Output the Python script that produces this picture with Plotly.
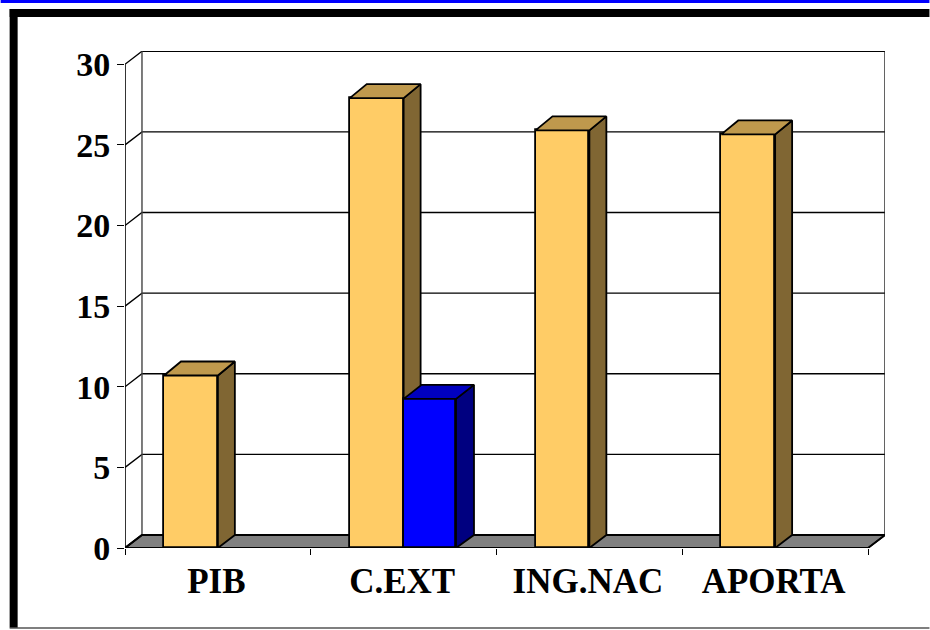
import plotly.graph_objects as go

categories = ["PIB", "C.EXT", "ING.NAC", "APORTA"]
serie_a = [10.7, 27.9, 25.9, 25.65]
serie_b = [None, 9.25, None, None]
y_ticks = [0, 5, 10, 15, 20, 25, 30]

W, H = 930, 630
L, R, T, B = 124.5, 885.5, 51, 548.5  # plot box in page pixels
UX = 186.0                            # pixels per category
UY = 80.7 / 5                         # pixels per value unit
DX = 17 / UX                          # 3D depth, in data units
DY = 13 / UY
BAR_DY_TOP = 14 / UY
DX_B = 18 / UX
SLOT_GAP, SLOT_W_A, SLOT_W_B = 0.21, 0.29, 0.282
N = len(categories)
x_idx = list(range(N))

ORANGE, ORANGE_SIDE, ORANGE_TOP = "#FFCC66", "#806633", "#BF994D"
BLUE, BLUE_SIDE, BLUE_TOP = "#0000FF", "#000080", "#0000BF"
FLOOR = "#808080"
FONT_Y = dict(family="Liberation Serif", size=34, color="black", weight="bold")
FONT_X = dict(family="Liberation Serif", size=35, color="black", weight="bold")
EDGE = dict(color="black", width=1.8)


def faces(values, offset, w, dx):
    sx, sy, tx, ty = [], [], [], []
    for i, v in enumerate(values):
        if v is None:
            continue
        a = i + offset
        b = a + w
        sx += [b, b + dx, b + dx, b, b, None]
        sy += [0, DY, v + BAR_DY_TOP, v, 0, None]
        tx += [a, a + dx, b + dx, b, a, None]
        ty += [v, v + BAR_DY_TOP, v + BAR_DY_TOP, v, v, None]
    return sx, sy, tx, ty


def poly(x, y, color, xa, ya, line=EDGE):
    return go.Scatter(x=x, y=y, mode="lines", fill="toself", fillcolor=color, line=line,
                      xaxis=xa, yaxis=ya, hoverinfo="skip", showlegend=False, cliponaxis=False)


def line(x, y, xa="x", ya="y", color="black", width=1.4):
    return go.Scatter(x=x, y=y, mode="lines", line=dict(color=color, width=width),
                      xaxis=xa, yaxis=ya, hoverinfo="skip", showlegend=False, cliponaxis=False)


fig = go.Figure()

# Base: floor, walls, grid
fig.add_trace(poly([0, DX, N + DX, N, 0], [0, DY, DY, 0, 0], FLOOR, "x", "y"))
for v in y_ticks[1:]:
    fig.add_trace(line([0, DX, N + DX], [v, v + DY, v + DY]))
fig.add_trace(line([DX, DX], [DY, y_ticks[-1] + DY], color="#444444"))
fig.add_trace(line([N + DX, N + DX], [DY, y_ticks[-1] + DY], color="#222222"))
fig.add_trace(line([0, DX, N + DX], [0, DY, DY], width=1.8))

# Series A
sx, sy, tx, ty = faces(serie_a, SLOT_GAP, SLOT_W_A, DX)
fig.add_trace(go.Bar(x=x_idx, y=serie_a, offset=SLOT_GAP, width=SLOT_W_A, marker=dict(color=ORANGE, line=EDGE),
                     xaxis="x2", yaxis="y2", showlegend=False, cliponaxis=False))
fig.add_trace(poly(sx, sy, ORANGE_SIDE, "x2", "y2"))
fig.add_trace(poly(tx, ty, ORANGE_TOP, "x2", "y2"))

# Series B
sx, sy, tx, ty = faces(serie_b, SLOT_GAP + SLOT_W_A, SLOT_W_B, DX_B)
fig.add_trace(go.Bar(x=x_idx, y=serie_b, offset=SLOT_GAP + SLOT_W_A, width=SLOT_W_B,
                     marker=dict(color=BLUE, line=EDGE),
                     xaxis="x3", yaxis="y3", showlegend=False, cliponaxis=False))
fig.add_trace(poly(sx, sy, BLUE_SIDE, "x3", "y3"))
fig.add_trace(poly(tx, ty, BLUE_TOP, "x3", "y3"))

# Front axis lines, on top
fig.add_trace(line([0, N], [0, 0], "x3", "y3", width=2.2))
fig.add_trace(line([0, 0], [0, y_ticks[-1]], "x3", "y3", width=1.6))
fig.add_trace(line([N, N + DX], [0, DY], "x3", "y3", width=1.4))

x_range = [0, (R - L) / UX]
y_range = [0, (B - T) / UY]
hidden = dict(range=x_range, visible=False, fixedrange=True)

fig.update_layout(
    width=W, height=H, autosize=False,
    margin=dict(l=L, r=W - R, t=T, b=H - B),
    paper_bgcolor="white", plot_bgcolor="white",
    bargap=0, showlegend=False,
    xaxis=dict(range=x_range, tickmode="array", tickvals=[i + 0.492 for i in x_idx], ticktext=categories,
               ticks="", showline=False, showgrid=False, zeroline=False, tickfont=FONT_X, ticklabelstandoff=9),
    yaxis=dict(range=y_range, tickmode="array", tickvals=y_ticks, ticks="outside", ticklen=7, tickwidth=1.4,
               tickcolor="black", showline=False, showgrid=False, zeroline=False, tickfont=FONT_Y),
    xaxis2=dict(range=x_range, overlaying="x", anchor="y2", tickmode="array", tickvals=list(range(N + 1)),
                ticks="outside", ticklen=6, tickwidth=1.4, tickcolor="black", showticklabels=False,
                showline=False, showgrid=False, zeroline=False),
    yaxis2=dict(range=y_range, overlaying="y", anchor="x2", visible=False),
    xaxis3=dict(hidden, overlaying="x", anchor="y3"),
    yaxis3=dict(range=y_range, overlaying="y", anchor="x3", visible=False),
)


def px(x):
    return (x - L) / (R - L)


def py(y):
    return (B - y) / (B - T)


frame = [
    (0, -1, W, 3, "#0000FF"),         # blue strip along the page top
    (9, 9, W, 17, "black"),           # top bar
    (9, 9, 17, H - 2, "black"),       # left bar
    (9, H - 2, W, H - 1, "black"),    # thin bottom line
]
for x0, y0, x1, y1, c in frame:
    fig.add_shape(type="rect", xref="paper", yref="paper", x0=px(x0), x1=px(x1), y0=py(y0), y1=py(y1),
                  fillcolor=c, line=dict(width=0), layer="below")

fig.write_html("out.html", post_script="document.body.style.margin='0';document.body.style.overflow='hidden';",
               config=dict(displayModeBar=False))
